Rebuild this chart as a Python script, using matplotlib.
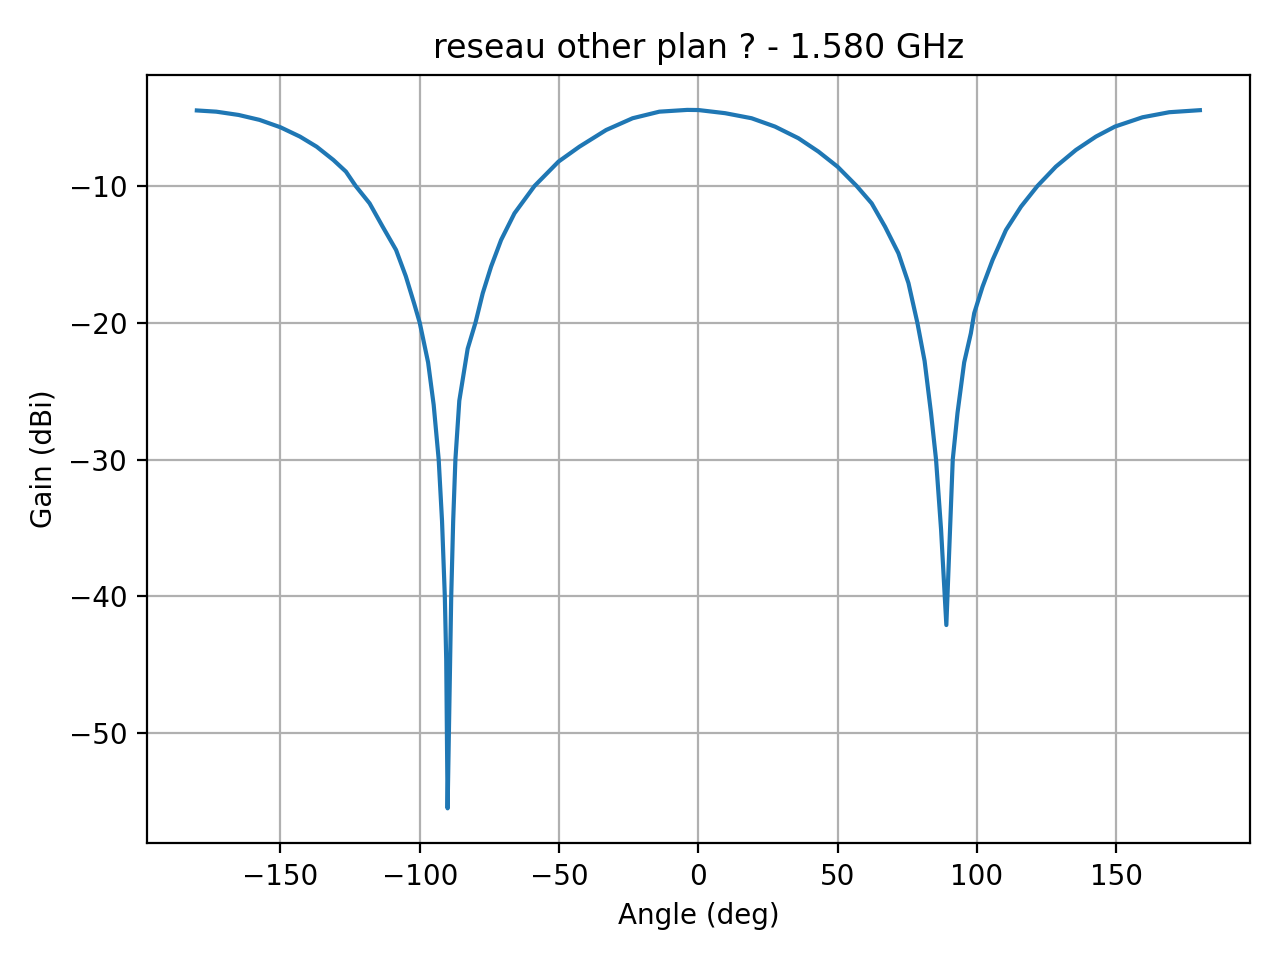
import matplotlib
matplotlib.use("Agg")
import matplotlib.pyplot as plt

# gain pattern
angles = [-180, -173, -165, -157.5, -150, -143, -137, -131, -126.5, -123, -118,
          -113.3, -108.5, -105, -102, -100, -97, -95, -93.2, -92, -91, -90.5, -90,
          -88.7, -88, -87.2, -85.8, -82.8, -80, -77.4, -74.4, -70.8, -66, -58.8,
          -50.2, -42.7, -33.1, -23.6, -14, -4, 0, 9.6, 19.1, 27.5, 35.9, 43.1,
          50, 56.8, 62.2, 67, 71.8, 75.4, 78.6, 81.2, 83.5, 85.3, 87.1, 89,
          90.1, 91.3, 93, 95.4, 97.8, 99, 102, 105.6, 110.4, 115.8, 121.7,
          128.3, 135.5, 142.7, 149.5, 159.4, 169, 180]
gain = [-4.48, -4.57, -4.81, -5.17, -5.71, -6.39, -7.13, -8.10, -8.95, -10.0, -11.27,
        -12.98, -14.68, -16.6, -18.6, -20.0, -22.9, -26.0, -30.0, -34.5, -40.0, -44.6, -55.5,
        -40.0, -34.5, -30.0, -25.7, -21.9, -20.0, -17.85, -15.9, -13.95, -12.0, -10.0,
        -8.22, -7.13, -5.91, -5.05, -4.57, -4.44, -4.45, -4.68, -5.05, -5.66, -6.51, -7.49,
        -8.6, -10.0, -11.27, -12.98, -14.92, -17.1, -20.0, -22.8, -26.6, -30.0, -35.1, -42.1,
        -36.3, -30.0, -26.6, -22.9, -20.77, -19.3, -17.36, -15.41, -13.22, -11.51, -10.0,
        -8.59, -7.37, -6.39, -5.66, -4.98, -4.61, -4.46]

fig = plt.figure(figsize=(6.4, 4.8), dpi=200)
ax = fig.add_subplot(1, 1, 1)
ax.plot(angles, gain)
ax.set_title("reseau other plan ? - 1.580 GHz")
ax.set_xlabel("Angle (deg)")
ax.set_ylabel("Gain (dBi)")
ax.grid(True)
fig.subplots_adjust(left=0.1146, right=0.9766, top=0.9219, bottom=0.1216)
fig.savefig("out.png")
